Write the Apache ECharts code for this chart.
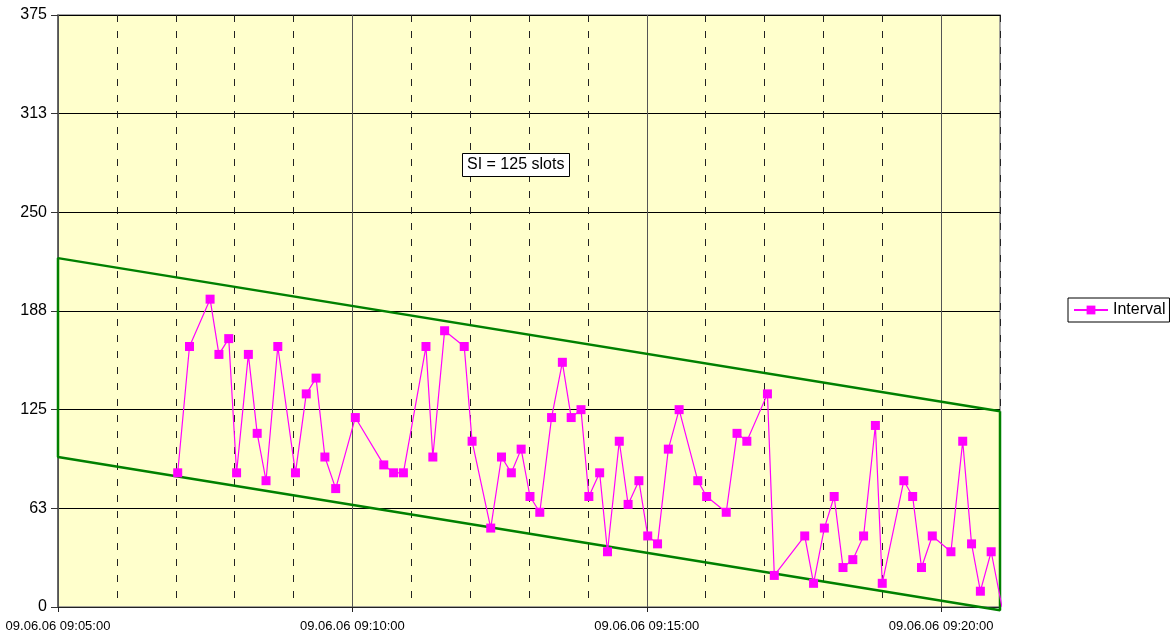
<!DOCTYPE html>
<html><head><meta charset="utf-8">
<script src="https://cdn.jsdelivr.net/npm/echarts@6/dist/echarts.min.js"></script>
<style>html,body{margin:0;padding:0;background:#fff}#c{width:1170px;height:635px}</style>
</head><body><div id="c"></div>
<script>
// ---- data ----
const datePrefix = '09.06.06';
const seriesName = 'Interval';
const annotationText = 'SI = 125 slots';
const times = [
 '09:07:02','09:07:14','09:07:35','09:07:44','09:07:54','09:08:02','09:08:14','09:08:23','09:08:32','09:08:44',
 '09:09:02','09:09:13','09:09:23','09:09:32','09:09:43','09:10:03','09:10:32','09:10:42','09:10:52','09:11:15',
 '09:11:22','09:11:34','09:11:54','09:12:02','09:12:21','09:12:32','09:12:42','09:12:52','09:13:01','09:13:11',
 '09:13:23','09:13:34','09:13:43','09:13:53','09:14:01','09:14:12','09:14:20','09:14:32','09:14:41','09:14:52',
 '09:15:01','09:15:11','09:15:22','09:15:33','09:15:52','09:16:01','09:16:21','09:16:32','09:16:42','09:17:03',
 '09:17:10','09:17:41','09:17:50','09:18:01','09:18:11','09:18:20','09:18:30','09:18:41','09:18:53','09:19:00',
 '09:19:22','09:19:31','09:19:40','09:19:51','09:20:10','09:20:22','09:20:31','09:20:40','09:20:51','09:21:02'
];
const intervals = [
 85,165,195,160,170,85,160,110,80,165,
 85,135,145,95,75,120,90,85,85,165,
 95,175,165,105,50,95,85,100,70,60,
 120,155,120,125,70,85,35,105,65,80,
 45,40,100,125,80,70,60,110,105,135,
 20,45,15,50,70,25,30,45,115,15,
 80,70,25,45,35,105,40,10,35,0
];
const bandTimes = ['09:05:00','09:21:00'];
const upperBand = [221, 124];
const lowerBand = [95, -2];
const xRange = ['09:05:00','09:21:00'];
const xLabelTimes = ['09:05:00','09:10:00','09:15:00','09:20:00'];
const yTickLabels = ['0','63','125','188','250','313','375'];

// ---- helpers ----
function toSec(t){const p=t.split(':').map(Number);return p[0]*3600+p[1]*60+p[2];}
function pad(n){return (n<10?'0':'')+n;}
function fmt(s){return datePrefix+' '+pad(Math.floor(s/3600))+':'+pad(Math.floor(s%3600/60))+':'+pad(s%60);}
const xMin = toSec(xRange[0]), xMax = toSec(xRange[1]);
const yMax = 375, yStep = yMax/(yTickLabels.length-1);
const lineData = times.map((t,i)=>[toSec(t), intervals[i]]);
const t0 = toSec(bandTimes[0]), t1 = toSec(bandTimes[1]);
const bandData = [[t1,upperBand[1]],[t0,upperBand[0]],[t0,lowerBand[0]],[t1,lowerBand[1]],[t1,upperBand[1]]];
const labelSecs = xLabelTimes.map(toSec);
const FONT = 'Liberation Sans, Arial, sans-serif';

const chart = echarts.init(document.getElementById('c'), null, {renderer:'canvas'});
chart.setOption({
  animation:false,
  textStyle:{fontFamily:FONT},
  title:{
    text:annotationText, left:462, top:153, padding:[3,5],
    backgroundColor:'#fff', borderColor:'#000', borderWidth:1,
    textStyle:{fontFamily:FONT, fontSize:16, lineHeight:18, fontWeight:'normal', color:'#000'}
  },
  legend:{
    data:[seriesName], left:1068, top:298, orient:'vertical',
    padding:[4,4,4,5], borderColor:'#000', borderWidth:1, backgroundColor:'#fff',
    itemWidth:34, itemHeight:11,
    textStyle:{fontFamily:FONT, fontSize:16, lineHeight:16, color:'#000'}
  },
  grid:{left:58, top:15, right:170, bottom:28, show:true, backgroundColor:'#ffffcc', borderColor:'#888', borderWidth:1.5, containLabel:false},
  xAxis:[
    {type:'value', min:xMin, max:xMax, interval:60,
     axisLine:{show:true, onZero:false, lineStyle:{color:'#222', width:1}},
     axisTick:{show:false}, axisLabel:{show:false},
     splitLine:{show:true, lineStyle:{color:'#222', width:1, type:[7,9]}}},
    {type:'value', min:xMin, max:xMax, interval:300, position:'bottom',
     axisLine:{show:false},
     axisTick:{show:true, length:5, customValues:labelSecs, lineStyle:{color:'#222'}},
     axisLabel:{show:true, customValues:labelSecs, margin:13, fontFamily:FONT, fontSize:13, color:'#000',
       formatter:v=>fmt(v)},
     splitLine:{show:true, lineStyle:{color:'#555', width:1, type:'solid'}}}
  ],
  yAxis:{type:'value', min:0, max:yMax, interval:yStep,
    axisLine:{show:true, lineStyle:{color:'#555', width:1.5}},
    axisTick:{show:true, length:7, lineStyle:{color:'#333'}},
    axisLabel:{margin:11, fontFamily:FONT, fontSize:16, color:'#000',
      formatter:v=>yTickLabels[Math.round(v/yStep)]},
    splitLine:{show:true, lineStyle:{color:'#000', width:1}}},
  series:[
    {name:'band', type:'line', data:bandData, xAxisIndex:0, clip:false, symbol:'none',
     lineStyle:{color:'#008000', width:2.5}, silent:true, z:3},
    {name:seriesName, type:'line', data:lineData, xAxisIndex:0, clip:true,
     symbol:'rect', symbolSize:9, showAllSymbol:true,
     lineStyle:{color:'#ff00ff', width:1.2}, itemStyle:{color:'#ff00ff'}, z:4}
  ]
});
</script></body></html>
